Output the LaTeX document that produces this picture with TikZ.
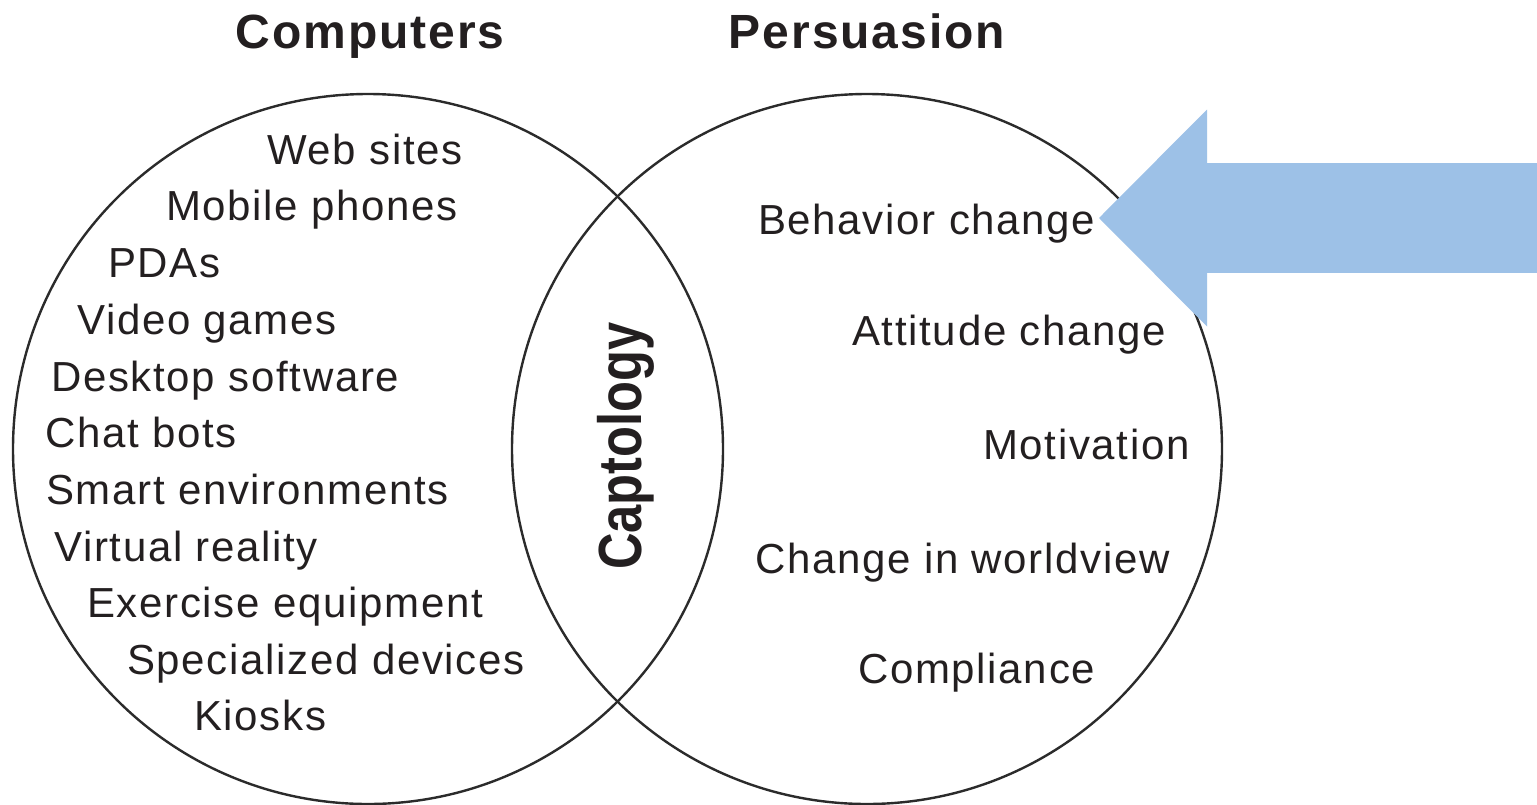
\documentclass[tikz,border=0pt]{standalone}
\usepackage{fontspec}
\setmainfont{Liberation Sans}
\newfontfamily\labelfont{Liberation Sans}[LetterSpace=4]
\usetikzlibrary{arrows.meta}
\definecolor{ink}{HTML}{231F20}
\definecolor{rim}{HTML}{2B2B2B}
\definecolor{pointer}{HTML}{9DC1E7}

\begin{document}
\begin{tikzpicture}[x=1pt,y=-1pt,
  setcircle/.style={circle, draw=rim, line width=2.4pt, minimum size=710pt, inner sep=0pt},
  item/.style={anchor=base west, inner sep=0pt, text=ink, font=\labelfont\fontsize{42}{42}\selectfont},
  heading/.style={anchor=base, inner sep=0pt, text=ink, font=\labelfont\bfseries\fontsize{48}{48}\selectfont},
  overlap/.style={anchor=base, rotate=90, inner sep=0pt, text=ink, font=\bfseries\fontsize{61}{61}\selectfont},
  callout/.style={draw=pointer, line width=110pt, -{Triangle[length=108pt,width=217pt,line width=0pt]}}
]
\fill[white] (0,0) rectangle (1537,804);
\useasboundingbox (0,0) rectangle (1537,804);

% the two sets
\node[setcircle] (comp) at (368,449) {};
\node[setcircle] (pers) at (867,449) {};

% set titles
\node[heading] (compT) at (370,48) {Computers};
\node[heading] (persT) at (867,48) {Persuasion};

% intersection label
\node[overlap] (capt) at (641,446) {\scalebox{0.83}[1]{Captology}};

% computing technologies
\node[item] (web)  at (267,164) {Web sites};
\node[item] (mob)  at (166,220) {Mobile phones};
\node[item] (pda)  at (108,277) {PDAs};
\node[item] (vid)  at (77,334)  {Video games};
\node[item] (desk) at (51,391)  {Desktop software};
\node[item] (chat) at (45,447)  {Chat bots};
\node[item] (smart) at (46,504) {Smart environments};
\node[item] (vr)   at (54,561)  {Virtual reality};
\node[item] (exer) at (87,617)  {Exercise equipment};
\node[item] (spec) at (127,674) {Specialized devices};
\node[item] (kio)  at (194,730) {Kiosks};

% persuasion outcomes
\node[item] (beh)  at (758,234) {Behavior change};
\node[item] (att)  at (852,345) {Attitude change};
\node[item] (mot)  at (983,459) {Motivation};
\node[item] (world) at (755,573) {Change in worldview};
\node[item] (compl) at (858,683) {Compliance};

% highlight arrow pointing at behavior change
\coordinate (src) at (1537,218);
\coordinate (tip) at (1099,218);
\draw[callout] (src) -- (tip);
\end{tikzpicture}
\end{document}
